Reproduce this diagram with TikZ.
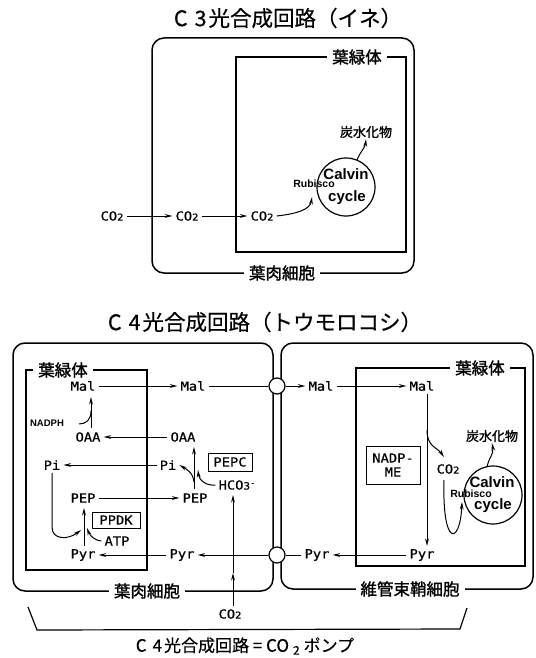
\documentclass[tikz,border=0pt]{standalone}
\usepackage{fontspec}
\usetikzlibrary{arrows.meta}
\newfontfamily\jpf[FakeBold=0.4]{Noto Sans CJK JP}
\newfontfamily\jpb[FakeBold=1.4]{Noto Sans CJK JP}
\newfontfamily\monof[FakeStretch=1.1,FakeBold=0.6]{DejaVu Sans Mono}
\newfontfamily\helf{Liberation Sans}
\newcommand\cotwo{CO{\fontsize{9.5}{9.5}\selectfont 2}}
\newcommand\hcothree{HCO{\fontsize{10}{10}\selectfont 3}\raisebox{4pt}{\fontsize{8}{8}\selectfont -}}
\begin{document}
\begin{tikzpicture}[x=1pt,y=-1pt,
  cellbox/.style={draw, line width=1.5pt, rounded corners=12pt},
  chlbox/.style={draw, line width=1.3pt},
  ttl/.style={font=\jpf\fontsize{21.5}{24}\selectfont, inner sep=0},
  lab/.style={font=\jpb\fontsize{16.5}{18}\selectfont, fill=white, inner sep=5pt},
  chem/.style={font=\monof\fontsize{12.5}{14}\selectfont, inner sep=3pt},
  enz/.style={chem, draw, line width=1pt, inner sep=2pt},
  carb/.style={font=\jpb\fontsize{13}{15}\selectfont, inner sep=1pt},
  cyc/.style={circle, draw, line width=1.2pt, minimum size=58pt, inner sep=0},
  cyct/.style={font=\helf\bfseries\fontsize{15}{17}\selectfont, inner sep=0},
  rub/.style={font=\helf\bfseries\fontsize{10.5}{12}\selectfont, inner sep=0},
  arr/.style={-{Stealth[length=7.5pt,width=3.8pt]}, line width=1pt},
  ln/.style={line width=1pt},
  pd/.style={circle, draw, fill=white, line width=1.2pt, minimum size=16pt, inner sep=0}
]
\useasboundingbox (0,0) rectangle (535,658);

% ---------- C3 ----------
\node[ttl] (t3) at (288,18) {C\hspace{7pt}3\hspace{2pt}光合成回路（イネ）};
\draw[cellbox] (152,38) rectangle (414,273);
\draw[chlbox] (236,57) rectangle (406,252);
\node[lab] (mes1) at (282,273) {葉肉細胞};
\node[lab] (chl1) at (357,57) {葉緑体};
\node[chem] (a1) at (112,216) {\cotwo};
\node[chem] (a2) at (187,216) {\cotwo};
\node[chem] (a3) at (262,216) {\cotwo};
\draw[arr] (a1) -- (a2);
\draw[arr] (a2) -- (a3);
\node[cyc] (cv1) at (346,187) {};
\node[cyct] (cal1) at (346,174) {Calvin};
\node[cyct] (cyc1) at (347,198) {cycle};
\node[rub] (rub1) at (314,184) {Rubisco};
\node[carb] (ch1) at (366,132) {炭水化物};
\coordinate (e1) at (312,197);
\draw[arr] (a3.east) .. controls (295,214) and (310,210) .. (e1);
\coordinate (s1) at (357,160);
\draw[arr] (s1) .. controls (360,152) and (365,148) .. (ch1.south);

% ---------- C4 ----------
\node[ttl] (t4) at (265,322) {C\hspace{7pt}4\hspace{2pt}光合成回路（トウモロコシ）};
\draw[cellbox] (13,343) rectangle (273,591);
\draw[cellbox] (281,343) rectangle (533,589);
\draw[chlbox] (26,370) rectangle (147,570);
\draw[chlbox] (356,368) rectangle (525,566);
\node[lab] (mes2) at (147,591) {葉肉細胞};
\node[lab] (bsc) at (410,589) {維管束鞘細胞};
\node[lab] (chl2) at (63,370) {葉緑体};
\node[lab] (chl3) at (480,368) {葉緑体};

\node[chem] (malc) at (83,386) {Mal};
\node[chem] (malm) at (193,386) {Mal};
\node[pd] (pd1) at (277,386) {};
\node[chem] (malb) at (321,386) {Mal};
\node[chem] (malbc) at (422,386) {Mal};
\node[chem] (oaac) at (88,437) {OAA};
\node[chem] (oaam) at (183,437) {OAA};
\node[chem] (pic) at (52,465) {Pi};
\node[chem] (pim) at (168,465) {Pi};
\node[enz, minimum width=44pt, minimum height=18pt] (pepcb) at (230,462) {PEPC};
\node[chem] (hco) at (237,485) {\hcothree};
\node[chem] (pepch) at (83,498) {PEP};
\node[chem] (pepm) at (195,498) {PEP};
\node[enz, minimum width=48pt, minimum height=16pt] (ppdk) at (116,520) {PPDK};
\node[chem] (atp) at (117,541) {ATP};
\node[chem] (pyrc) at (83,555) {Pyr};
\node[chem] (pyrm) at (182,555) {Pyr};
\node[pd] (pd2) at (277,555) {};
\node[chem] (pyrb) at (317,555) {Pyr};
\node[chem] (pyrbc) at (422,555) {Pyr};
\node[chem] (co2b) at (230,614) {\cotwo};
\node[rub, font=\helf\bfseries\fontsize{9.5}{11}\selectfont] (nadph) at (47,423) {NADPH};
\node[enz, align=center, minimum width=54pt, minimum height=38pt] (me) at (393,465) {NADP-\\ME};
\node[chem] (co2c) at (448,469) {\cotwo};
\node[cyc] (cv2) at (493,495) {};
\node[cyct] (cal2) at (492,482) {Calvin};
\node[cyct] (cyc2) at (493,506) {cycle};
\node[rub] (rub2) at (471,494) {Rubisco};
\node[carb] (ch2) at (492,436) {炭水化物};

% Mal row
\draw[arr] (malc) -- (malm);
\draw[ln] (malm) -- (pd1);
\draw[arr] (pd1) -- (malb);
\draw[arr] (malb) -- (malbc);
\draw[arr] ([xshift=5pt]malbc.south) -- ([xshift=5pt]pyrbc.north);
\coordinate (br) at (427,430);
\coordinate (e2) at (444,457);
\draw[arr] (br) .. controls (427,447) and (437,447) .. (e2);
\coordinate (l0) at (444,480);
\coordinate (e3) at (462,502);
\draw[arr] (l0) .. controls (442,548) and (460,545) .. (e3);
\coordinate (s2) at (487,467);
\draw[arr] (s2) .. controls (489,457) and (494,454) .. (ch2.south);

% Pyr row
\draw[arr] (pyrbc) -- (pyrb);
\draw[ln] (pyrb) -- (pd2);
\draw[arr] (pd2) -- (pyrm);
\draw[arr] (pyrm) -- (pyrc);

% CO2 up
\coordinate (vm) at (233,573);
\coordinate (vt) at (233,495);
\draw[arr] (co2b.north -| vm) -- (vm);
\draw[arr] (vm) -- (vt);

% mesophyll reactions
\draw[arr] (oaam) -- (oaac);
\draw[arr] (pim) -- (pic);
\draw[arr] (pepch) -- (pepm);
\coordinate (p0) at (194,489);
\coordinate (p1) at (194,447);
\draw[arr] (p0) -- (p1);
\coordinate (q0) at (194,482);
\draw[arr] (q0) .. controls (193,472) and (186,469) .. (pim.east);
\coordinate (h1) at (198,470);
\draw[arr] (hco.west) .. controls (206,486) and (199,480) .. (h1);
\coordinate (o0) at (91,428);
\coordinate (o1) at (91,397);
\draw[arr] (o0) -- (o1);
\coordinate (n0) at (79,424);
\coordinate (n1) at (91,411);
\draw[ln] (n0) .. controls (86,424) and (91,420) .. (n1);
\coordinate (pi1) at (52,527);
\coordinate (pi2) at (81,530);
\draw[arr] (pic.south) -- (pi1) .. controls (52,540) and (68,540) .. (pi2);
\coordinate (y0) at (84,546);
\coordinate (y1) at (84,508);
\draw[arr] (y0) -- (y1);
\coordinate (at1) at (87,528);
\draw[arr] (atp.west) .. controls (96,541) and (90,536) .. (at1);

% brace
\coordinate (b1) at (28,607);
\coordinate (b2) at (37,630);
\coordinate (b3) at (460,629);
\coordinate (b4) at (467,608);
\draw[line width=1.2pt] (b1) -- (b2) -- (b3) -- (b4);
\node[font=\jpf\fontsize{17}{19}\selectfont, inner sep=0] (pump) at (245,646) {C\hspace{6pt}4\hspace{2pt}光合成回路 = CO\hspace{4pt}{\raisebox{-3pt}{\fontsize{12}{12}\selectfont 2}}\hspace{4pt}ポンプ};
\end{tikzpicture}
\end{document}
